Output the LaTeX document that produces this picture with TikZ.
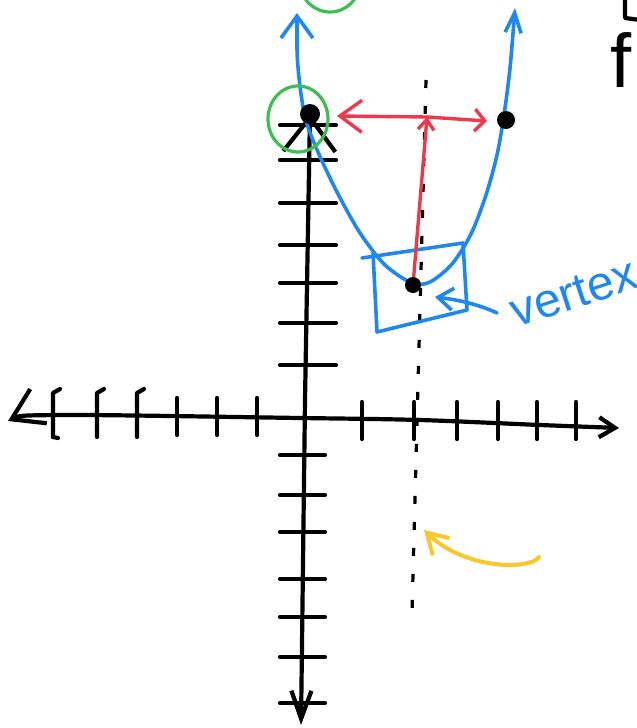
\documentclass[tikz,border=0pt]{standalone}
\usepackage{fontspec}
\newfontfamily\handfont{Liberation Sans}
\usetikzlibrary{arrows.meta}
\definecolor{penblue}{RGB}{30,136,240}
\definecolor{penred}{RGB}{240,56,76}
\definecolor{pengreen}{RGB}{60,190,80}
\definecolor{penyellow}{RGB}{248,200,40}

\begin{document}
\begin{tikzpicture}[x=0.5pt,y=-0.5pt,
  ink/.style={black, line width=2.1pt, line cap=round, line join=round},
  bluepen/.style={penblue, line width=1.8pt, line cap=round, line join=round},
  redpen/.style={penred, line width=1.7pt, line cap=round, line join=round},
  greenpen/.style={pengreen, line width=1.6pt},
  yellowpen/.style={penyellow, line width=2pt, line cap=round, line join=round}]
\useasboundingbox (0,0) rectangle (637,728);
\clip (0,0) rectangle (637,728);
\draw[ink, {Straight Barb[length=15pt,width=19pt]}-{Straight Barb[length=8pt,width=10pt]}] plot[smooth] coordinates {(8,421) (60,415) (300,418) (420,420) (540,425) (619,428)};
\draw[ink, {Straight Barb[length=17pt,width=26pt]}-{Straight Barb[length=14pt,width=10pt]}] (310,114) -- (305,400) -- (301,725);
\foreach \x in {53,97,137} \draw[ink] (\x+7,389) -- (\x,393) -- (\x,437);
\draw[ink] (53,437) -- (58,438);
\foreach \x in {177,217,257} \draw[ink] (\x,398) -- (\x,435);
\foreach \x in {362,414,457,498,537,576} \draw[ink] (\x,402) -- (\x,439);
\foreach \y in {125,160,203,245,283,323,365} \draw[ink] (280,\y) -- (336,\y);
\foreach \y in {455,495,532,579,617,657,703} \draw[ink] (280,\y) -- (325,\y);
\draw[ink, line width=1.6pt, line cap=butt, dash pattern=on 4pt off 9pt] (426,80) -- (412,613);
\draw[bluepen, {Straight Barb[length=11pt,width=16pt]}-{Straight Barb[length=10pt,width=8pt]}] plot[smooth] coordinates {(297,13) (298,67) (305,117) (318,152) (337,192) (360,233) (385,265) (412,283) (430,282) (452,264) (471,234) (486,195) (497,155) (504,115) (510,68) (515,8)};
\draw[bluepen] (362,258) -- (463,243) -- (467,310) -- (377,332) -- (373,253);
\draw[bluepen, {Straight Barb[length=7.5pt,width=11pt]}-] (435,297) .. controls (460,300) and (480,305) .. (497,313);
\coordinate (mid) at (427,117);
\coordinate (left) at (337,116);
\coordinate (right) at (487,121);
\coordinate (vtx) at (413,285);
\draw[redpen, -{Straight Barb[length=11pt,width=16pt]}] (mid) -- (left);
\draw[redpen, -{Straight Barb[length=5pt,width=11pt]}] (mid) -- (right);
\draw[redpen, -{Straight Barb[length=5pt,width=8pt]}] (vtx) -- (mid);
\fill (310,114) circle (10);
\fill (vtx) circle (8);
\fill (506,120) circle (9);
\draw[greenpen] (298,119) ellipse [x radius=30, y radius=33];
\draw[greenpen] (330,-18) circle (30);
\draw[yellowpen, -{Straight Barb[length=10pt,width=12pt]}] (539,557) .. controls (530,570) and (465,570) .. (424,530);
\node[penblue, anchor=base west, inner sep=0, rotate=18, font=\handfont\fontsize{24}{24}\selectfont] (label) at (516,328) {vertex};
\node[anchor=base west, inner sep=0, font=\handfont\fontsize{38}{38}\selectfont] (fx) at (610,87) {f};
\draw[ink] (625,0) -- (625,18) -- (640,20);
\end{tikzpicture}
\end{document}
